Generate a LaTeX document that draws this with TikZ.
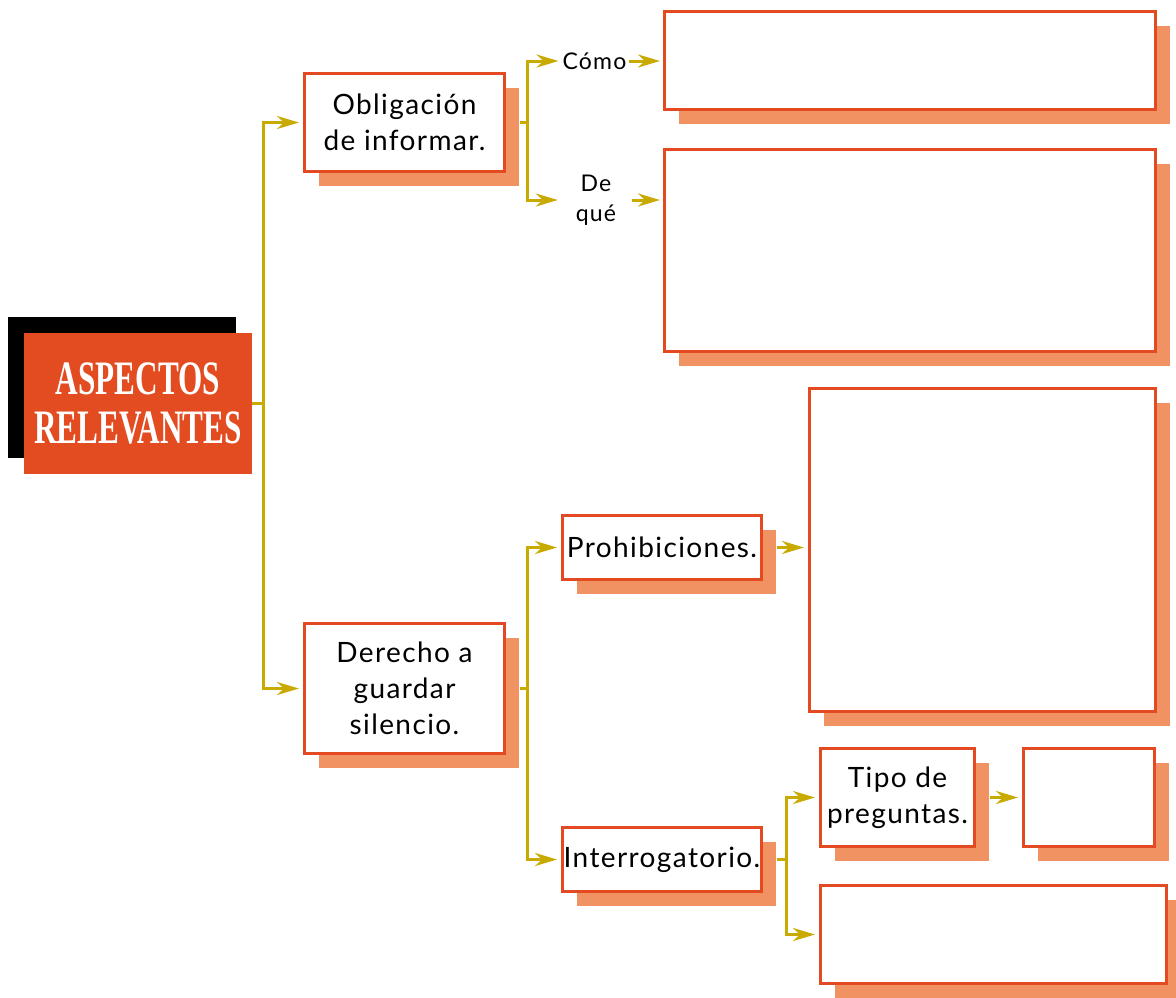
\documentclass[tikz,border=0pt]{standalone}
\usepackage{fontspec}
\setmainfont{Lato}[LetterSpace=5]
\newfontfamily\titlefont{Liberation Serif}
\usetikzlibrary{arrows.meta,shadows}
\definecolor{boxred}{HTML}{E34A21}
\definecolor{shadowc}{HTML}{F09262}
\definecolor{arrc}{HTML}{C8AA00}
\definecolor{titlered}{HTML}{E34B20}
\begin{document}
\begin{tikzpicture}[x=1pt,y=-1pt,
  box/.style={draw=boxred, line width=3pt, fill=white, inner sep=0pt, align=center,
    general shadow={shadow xshift=14pt, shadow yshift=-14pt, fill=shadowc},
    font=\fontsize{28}{36}\selectfont},
  titlebox/.style={fill=titlered, draw=none, inner sep=0pt, align=center, text=white,
    minimum width=228pt, minimum height=141pt,
    font=\titlefont\bfseries\fontsize{48}{50}\selectfont,
    general shadow={shadow xshift=-16pt, shadow yshift=16pt, fill=black}},
  lbl/.style={inner sep=0pt, align=center, font=\fontsize{23}{30}\selectfont},
  conn/.style={draw=arrc, line width=3pt},
  arr/.style={conn, -{Stealth[length=22pt,width=13pt,inset=7pt]}, shorten >=4pt}
]
\useasboundingbox (0,0) rectangle (1176,997);

\node[titlebox] (title) at (138,403.5) {\scalebox{0.65}[1]{ASPECTOS}\\[-1pt]\scalebox{0.65}[1]{RELEVANTES}};

\node[box, minimum width=200pt, minimum height=98pt] (obl) at (404.5,122.5) {Obligación\\de informar.};
\node[box, minimum width=200pt, minimum height=130pt] (der) at (404.5,688.5) {Derecho a\\guardar\\silencio.};
\node[box, minimum width=199pt, minimum height=64pt] (pro) at (662,547.5) {Prohibiciones.};
\node[box, minimum width=199pt, minimum height=64pt] (int) at (662,859.5) {Interrogatorio.};
\node[box, minimum width=491pt, minimum height=98pt] (comobox) at (910,60.5) {};
\node[box, minimum width=491pt, minimum height=202pt] (dqbox) at (910,250.5) {};
\node[box, minimum width=346pt, minimum height=323pt] (probig) at (982.5,550) {};
\node[box, minimum width=154pt, minimum height=98pt] (tipo) at (897.5,797.5) {Tipo de\\preguntas.};
\node[box, minimum width=131pt, minimum height=98pt] (small) at (1089,797.5) {};
\node[box, minimum width=346pt, minimum height=98pt] (bottom) at (993.5,934.5) {};

\node[lbl, inner sep=3pt] (cl) at (594.5,61) {Cómo};
\node[lbl, minimum width=72pt] (dq) at (596,200) {De\\qué};

% junctions
\coordinate (j1) at ([xshift=11pt]title.east);
\coordinate (j2) at ([xshift=21pt]obl.east);
\coordinate (j3) at ([xshift=21pt]der.east);
\coordinate (j4) at ([xshift=23pt]int.east);

\draw[conn] (title.east) -- (j1);
\draw[arr] (j1) |- (obl.west);
\draw[arr] (j1) |- (der.west);

\draw[conn] ([xshift=14pt]obl.east) -- (j2);
\draw[arr, shorten >=1pt] (j2) |- (cl.west);
\draw[arr, shorten >=2pt] (j2) |- (dq.west);
\draw[arr, shorten >=3pt] (cl.east) -- (comobox.west |- cl.east);
\draw[arr, shorten >=3pt] (dq.east) -- (dqbox.west |- dq.east);

\draw[conn] ([xshift=14pt]der.east) -- (j3);
\draw[arr] (j3) |- (pro.west);
\draw[arr] (j3) |- (int.west);

\draw[arr] ([xshift=14pt]pro.east) -- (probig.west |- pro.east);

\draw[conn] ([xshift=14pt]int.east) -- (j4);
\draw[arr] (j4) |- (tipo.west);
\draw[arr] (j4) |- (bottom.west);

\draw[arr] ([xshift=14pt]tipo.east) -- (small.west |- tipo.east);
\end{tikzpicture}
\end{document}
